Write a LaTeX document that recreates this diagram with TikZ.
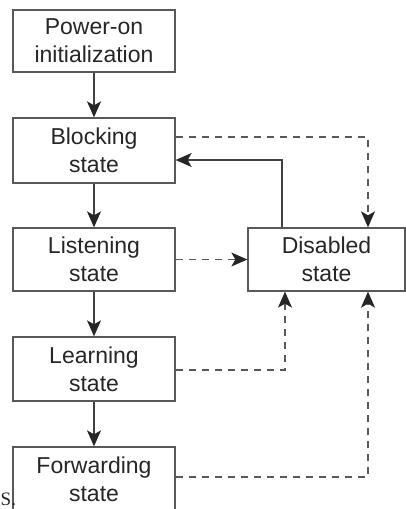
\documentclass[tikz,border=0pt]{standalone}
\usepackage{fontspec}
\setmainfont{Liberation Sans}
\newfontfamily\serifS{Liberation Serif}
\usetikzlibrary{arrows.meta}
\begin{document}
\begin{tikzpicture}[x=1pt,y=-1pt,
  statebox/.style={draw=black!65,line width=1.3pt,rectangle,inner sep=0pt,
    font=\fontsize{23}{28}\selectfont,align=center,text=black!85},
  tipstyle/.style={-{Stealth[length=16pt,width=14pt,inset=4pt,color=black!85]}},
  solidarrow/.style={draw=black!75,line width=1.3pt,tipstyle},
  dasharrow/.style={draw=black!65,line width=1.3pt,dash pattern=on 7pt off 6pt,tipstyle}]
\useasboundingbox (0,0) rectangle (406,509);
\node[statebox,minimum width=162pt,minimum height=62pt] (pwr) at (94,41) {Power-on\\initialization};
\node[statebox,minimum width=162pt,minimum height=65pt] (blk) at (94,150.5) {Blocking\\state};
\node[statebox,minimum width=162pt,minimum height=63pt] (lis) at (94,259.5) {Listening\\state};
\node[statebox,minimum width=162pt,minimum height=64pt] (lrn) at (94,369) {Learning\\state};
\node[statebox,minimum width=162pt,minimum height=64pt] (fwd) at (94,479) {Forwarding\\state};
\node[statebox,minimum width=157pt,minimum height=63pt] (dis) at (326.5,259.5) {Disabled\\state};
\node[font=\serifS\fontsize{19}{22}\selectfont,anchor=base west,inner sep=0pt,text=black!85] (s) at (0.5,505) {S.};
\coordinate (c1) at (368,137);
\coordinate (c2) at (282,160);
\coordinate (c3) at (285,370);
\coordinate (c4) at (368,477);
\draw[solidarrow] (pwr) -- (blk);
\draw[solidarrow] (blk) -- (lis);
\draw[solidarrow] (lis) -- (lrn);
\draw[solidarrow] (lrn) -- (fwd);
\draw[dasharrow] (blk.east |- c1) -| (c1 |- dis.north);
\draw[solidarrow] (c2 |- dis.north) |- (blk.east |- c2);
\draw[dasharrow] (lis.east) -- (dis.west);
\draw[dasharrow] (lrn.east |- c3) -| (c3 |- dis.south);
\draw[dasharrow] (fwd.east |- c4) -| (c4 |- dis.south);
\end{tikzpicture}
\end{document}
